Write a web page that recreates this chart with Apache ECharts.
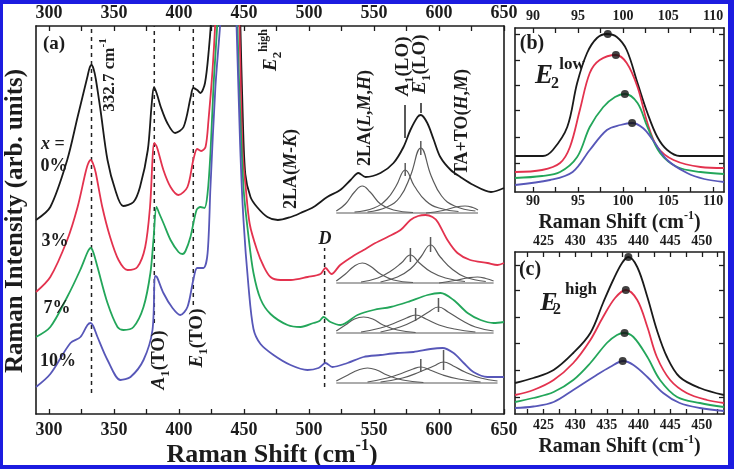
<!DOCTYPE html>
<html><head><meta charset="utf-8">
<script src="https://cdn.jsdelivr.net/npm/echarts@6/dist/echarts.min.js"></script>
<style>html,body{margin:0;padding:0;background:#fff}#c{width:734px;height:469px}</style>
</head><body><div id="c"></div>
<script>
// ---------------- DATA ----------------
// Panel (a): Raman spectra (x = Raman shift cm^-1, y = offset intensity, arb.)
const spec0 = [[290,194],[301,207],[314,254],[322,297],[329.5,337],[331.2,346],[332.7,349],[334.3,345],[336,335],[339.6,304],[345,254],[351,224],[357,208],[365,212],[370,227],[376,264],[379,310],[380.8,327],[383,320],[386,307],[391,291],[397,281],[403.5,287],[409,317],[411,326],[414,324],[416.5,321],[420,331],[423,365],[425,400],[428,480],[432,600],[436,690],[439,700],[442,640],[445,520],[447,400],[449,300],[451,240],[455,217],[460,207],[468,197],[476,194],[486,197],[493.5,201],[503.5,207],[514,217],[524,224],[532,234],[538,241],[543.5,237],[555,241],[565,251],[572.7,267],[578,284],[583.5,297],[586,299],[591,291],[596,274],[601,257],[609,244],[616.5,237],[626.5,229],[640,222],[650,226]];
const spec3 = [[290,122],[301,137],[314,174],[322,207],[328,241],[330,250],[332,254],[334,250],[336,241],[341,207],[347,177],[353.5,154],[360.4,144],[368,147],[374,167],[377.7,207],[381,271],[383,267],[388,244],[393.5,227],[399.6,219],[406.5,227],[411,254],[414,265],[417,263],[420.4,267],[422.7,294],[425.8,344],[428,394],[432,520],[436,620],[439,640],[442,590],[445,470],[447,360],[449,261],[451.3,227],[454.4,190],[460,164],[465,148],[470.4,137],[478,134],[486,134],[499,137],[508.8,140],[512.7,146],[517.3,140],[524,149],[534,158],[542,164],[549.6,170],[560.4,177],[570.4,184],[578,194],[584,198],[589.6,199],[595,197],[599,192],[606.5,174],[614.2,161],[624,154],[637.3,151],[645,149],[650,151]];
const spec7 = [[290,77],[301,87],[314,117],[324,144],[329,160],[330.5,164],[332,166],[334,162],[337.3,147],[345,111],[352.7,87],[357.3,84],[365,87],[372.7,107],[378,141],[380.4,175],[382.7,207],[385,200],[388,191],[393.5,174],[399.6,162],[402.7,160],[405,163],[408.8,177],[413.5,204],[416.5,207],[419.6,206],[422,221],[424.2,261],[426.5,327],[429.6,394],[433,500],[437,580],[440,570],[443,480],[446,340],[449.6,227],[453.5,177],[457.3,141],[462.7,115],[470.4,100],[483.5,89],[493.5,87],[503.5,91],[508,93],[511.2,97],[516.5,92],[524.2,89],[537.3,99],[549.6,104],[562.7,107],[575.8,112],[591.2,119],[601.2,121],[611.2,114],[622,101],[632,94],[642,91],[650,92]];
const spec10 = [[290,27],[301,40],[316.5,71],[324.2,77],[329.6,89],[332,91],[334,88],[337.3,77],[345,54],[355,34],[362.7,37],[372.7,54],[379.6,84],[381.5,138],[383,137],[388,121],[395,106],[401,99],[406.5,107],[411,134],[414,146],[418.8,146],[422,161],[424.2,227],[428,327],[431.9,394],[435,470],[438,520],[441,500],[444,400],[447,270],[449.6,194],[453.5,127],[457.3,85],[462.7,70],[472.7,59],[485.8,49],[498.8,44],[507.3,46],[512.7,51],[518,47],[529.6,51],[541.9,57],[555,59],[568,61],[580.4,62],[593.5,65],[602.7,66],[611.2,61],[619,51],[626.5,42],[637.3,37],[650,37]];

// fitted Lorentzian components (grey)
const fit0 = [
  [[521,201],[630,201]],
  [[521,203],[528,210],[535,222],[541,228],[547,222],[555,210],[565,204],[580,201.5]],
  [[535,202],[550,206],[560,215],[567,228],[574,244],[581,228],[590,213],[600,206],[615,202.5]],
  [[545,202],[560,207],[570,217],[578,238],[586,266],[594,238],[602,218],[612,208],[628,203]],
  [[590,201],[603,203.5],[613,207],[620,208],[626,206.5],[630,204]]
];
const fit3 = [
  [[521,131],[642,131]],
  [[521,133],[528,140],[535,148],[541,151],[547,148],[555,140],[565,134],[580,131.5]],
  [[540,132],[553,136],[563,143],[571,151],[578,159],[585,151],[594,142],[605,136],[620,132.5]],
  [[555,132],[568,137],[578,145],[586,157],[593.5,169],[601,157],[610,145],[620,137],[636,132.5]],
  [[600,131],[612,133.5],[622,136],[629.6,137],[636,135.5],[642,133]]
];
const fit7 = [
  [[521,81],[642,81]],
  [[521,83],[528,89],[535,95],[542,97],[549,95],[557,89],[568,84],[582,81.5]],
  [[540,82],[555,86],[566,91],[575,96],[582,99],[590,95],[600,89],[612,85],[628,82]],
  [[555,82],[570,87],[582,94],[592,102],[599.6,107],[607,102],[617,94],[628,87],[642,83]]
];
const fit10 = [
  [[521,31],[645,31]],
  [[521,33],[530,39],[538,44],[545,46],[552,44],[560,39],[572,34],[588,31.5]],
  [[545,32],[560,36],[572,41],[580,45],[586,47],[593,44],[603,39],[615,35],[632,32]],
  [[555,32],[572,36],[585,42],[596,48],[603.5,52],[611,48],[620,42],[632,36],[645,33]]
];
// peak-position tick marks on fitted components: [x, yLow, yHigh]
const fitTicks = [[574,238,251],[586,259,273],[578,152,166],[593.5,162,177],[582,93,106],[599.6,102,116],[586,42,55],[603.5,44,64]];
// dashed guide lines: [x, yLow, yHigh]
const guides = [[332.7,21,388],[381,91,388],[411,109,388],[512,27,166]];
// arrows for A1(LO), E1(LO): [x, yFrom, yTo]
const arrows = [[574,309,276],[586,311,301]];

// Panel (b): E2 low
const bSpec0 = [[88,36],[91.1,36],[92.2,42],[93.8,65],[94.9,109],[96,139],[97.1,154],[98.2,158],[99.3,155],[100.4,142],[101.6,109],[102.7,79],[103.8,55],[104.9,42],[106.3,36],[111.2,36]];
const bSpec3 = [[88,20],[91,22],[93,29],[94.1,45],[95.2,82],[96.3,119],[97.4,132],[99.2,137],[100.4,129],[101.6,105],[102.7,69],[103.8,45],[105.6,32],[108.6,25],[111.2,24]];
const bSpec7 = [[88,14],[91,16],[93,20],[94.9,35],[96.3,65],[97.8,85],[99.1,95],[100.2,98],[101.6,89],[102.7,65],[104.1,39],[106,25],[108.6,20],[111.2,18]];
const bSpec10 = [[88,7],[91.9,12],[94.4,20],[96.3,42],[98.2,62],[99.7,67],[101,69],[102.2,64],[103.3,52],[104.9,32],[107.1,19],[109,13],[111.2,10]];
const bPeaks = [[98.3,158],[99.2,137],[100.2,98],[101,69]];

// Panel (c): E2 high
const cSpec0 = [[420.5,31],[423.4,36],[426.6,44],[429.7,61],[432.4,81],[434.4,111],[436,134],[437.4,151],[438.4,157],[439.8,147],[441.4,117],[442.9,84],[444.5,57],[446.5,37],[449.7,26],[453.5,19]];
const cSpec3 = [[420.5,19],[423.4,24],[426.6,34],[429.7,51],[432.4,74],[434.4,97],[436.3,116],[438,124],[439.8,114],[441.4,87],[442.9,57],[445,34],[447.6,21],[450.8,14],[453.5,11]];
const cSpec7 = [[420.5,12],[423.4,16],[426.6,22],[429.7,34],[432.4,51],[435,71],[436.6,79],[437.7,81],[439.2,77],[441.4,57],[443.4,34],[446.1,17],[449.7,11],[453.5,7]];
const cSpec10 = [[420.5,6],[423.4,7.5],[426.6,12],[429.7,24],[432.9,37],[435.5,47],[437.6,53],[439.2,49],[441.4,37],[443.9,21],[446.5,11],[449.7,6],[453.5,3]];
const cPeaks = [[438.4,157],[438,124],[437.8,81],[437.5,53]];

// tick values / labels
const aTicks = [300,325,350,375,400,425,450,475,500,525,550,575,600,625,650];
const aLabels = [300,350,400,450,500,550,600,650];
const bTicks = [90,92.5,95,97.5,100,102.5,105,107.5,110];
const bLabels = [90,95,100,105,110];
const cTicks = [422.5,425,427.5,430,432.5,435,437.5,440,442.5,445,447.5,450,452.5];
const cLabels = [425,430,435,440,445,450];
const bYTicks = [29,55,82,107,132,158];
const cYTicks = [17,44,71,97,124,149];

// ---------------- CHART ----------------
const FONT = "'Liberation Serif','Times New Roman',serif";
const INK = '#1c1c1c';
const COLORS = ['#1a1a1a','#e3324e','#23a65a','#5757b8'];
const GREY = '#5a5a5a';

function xAx(grid, pos, min, max, ticks, labels, fs, margin, name, gap, nfs) {
  return {
    type:'value', gridIndex:grid, position:pos, min:min, max:max,
    axisLine:{show:true, onZero:false, lineStyle:{color:INK, width:1.6}},
    axisTick:{show:true, inside:true, length:5, customValues:ticks, lineStyle:{color:INK, width:1.3}},
    axisLabel:{show:true, customValues:labels, margin:margin, color:INK, fontFamily:FONT, fontWeight:'bold', fontSize:fs},
    splitLine:{show:false},
    name: name || '', nameLocation:'middle', nameGap: gap || 0,
    nameTextStyle:{color:INK, fontFamily:FONT, fontWeight:'bold', fontSize:nfs || 12, lineHeight: (nfs||12)+6,
      rich:{sp:{fontFamily:FONT, fontWeight:'bold', fontSize: Math.round((nfs||12)*0.58), verticalAlign:'top', lineHeight: Math.round((nfs||12)*0.6)}}}
  };
}
function yAx(grid, pos, max, ticks) {
  return {
    type:'value', gridIndex:grid, position:pos, min:0, max:max,
    axisLine:{show:true, onZero:false, lineStyle:{color:INK, width:1.6}},
    axisTick:{show: !!ticks, inside:true, length:5, customValues:ticks || undefined, lineStyle:{color:INK, width:1.3}},
    axisLabel:{show:false}, splitLine:{show:false}
  };
}

const series = [];
function addLine(data, color, width, xi, yi, smooth, z, dash) {
  series.push({type:'line', data:data, xAxisIndex:xi, yAxisIndex:yi, symbol:'none', smooth:smooth,
    clip:true, silent:true, z:z, lineStyle:{color:color, width:width, type: dash || 'solid'}});
}
[fit0, fit3, fit7, fit10].forEach(function(set){ set.forEach(function(c){ addLine(c, GREY, 1.2, 0, 0, 0.45, 2); }); });
fitTicks.forEach(function(t){ addLine([[t[0],t[1]],[t[0],t[2]]], GREY, 1.5, 0, 0, false, 3); });
guides.forEach(function(g){ addLine([[g[0],g[1]],[g[0],g[2]]], '#222', 1.5, 0, 0, false, 2, [4,4]); });
[spec0, spec3, spec7, spec10].forEach(function(s, i){ addLine(s, COLORS[i], 1.8, 0, 0, 0.3, 5); });
series.push({type:'line', xAxisIndex:0, yAxisIndex:0, data:[], symbol:'none', silent:true,
  markLine:{silent:true, symbol:['none','arrow'], symbolSize:[0,8], label:{show:false},
    lineStyle:{color:'#222', width:1.5, type:'solid'},
    data: arrows.map(function(a){ return [{coord:[a[0],a[1]]},{coord:[a[0],a[2]]}]; })}});
[bSpec0, bSpec3, bSpec7, bSpec10].forEach(function(s, i){ addLine(s, COLORS[i], 1.8, 2, 2, 0.35, 5); });
[cSpec0, cSpec3, cSpec7, cSpec10].forEach(function(s, i){ addLine(s, COLORS[i], 1.8, 4, 4, 0.35, 5); });
series.push({type:'scatter', xAxisIndex:2, yAxisIndex:2, data:bPeaks, symbolSize:8, itemStyle:{color:'#111'}, z:6, silent:true});
series.push({type:'scatter', xAxisIndex:4, yAxisIndex:4, data:cPeaks, symbolSize:8, itemStyle:{color:'#111'}, z:6, silent:true});

// text annotations
function T(x, y, text, rot, size) {
  const fs = size || 19;
  return {type:'text', x:x, y:y, rotation: rot ? Math.PI/2 : 0, z:50, silent:true,
    style:{text:text, fill:INK, align:'center', verticalAlign:'middle', textAlign:'center', textVerticalAlign:'middle',
      fontFamily:FONT, fontWeight:'bold', fontSize:fs,
      rich:{
        n:{fontFamily:FONT, fontWeight:'bold', fontSize:fs, lineHeight:fs+8, verticalAlign:'middle', fill:INK},
        i:{fontFamily:FONT, fontWeight:'bold', fontStyle:'italic', fontSize:fs, lineHeight:fs+8, verticalAlign:'middle', fill:INK},
        sb:{fontFamily:FONT, fontWeight:'bold', fontSize:Math.round(fs*0.68), lineHeight:Math.round(fs*0.7), verticalAlign:'bottom', fill:INK},
        sp:{fontFamily:FONT, fontWeight:'bold', fontSize:Math.round(fs*0.62), lineHeight:Math.round(fs*0.62), verticalAlign:'top', fill:INK}
      }}};
}
const graphics = [
  {type:'rect', shape:{x:0,y:0,width:734,height:4}, style:{fill:'#1c1ce0'}, z:100, silent:true},
  {type:'rect', shape:{x:0,y:465,width:734,height:4}, style:{fill:'#1c1ce0'}, z:100, silent:true},
  {type:'rect', shape:{x:0,y:0,width:3,height:469}, style:{fill:'#1c1ce0'}, z:100, silent:true},
  {type:'rect', shape:{x:728,y:0,width:6,height:469}, style:{fill:'#1c1ce0'}, z:100, silent:true},
  T(16,221,'{n|Raman Intensity (arb. units)}',true,25),
  T(272,455,'{n|Raman Shift (cm}{sp|-1}{n|)}',false,26),
  T(54,44,'{n|(a)}',false,19),
  T(53,144,'{i|x}{n| =}',false,18),
  T(54,166,'{n|0%}',false,18),
  T(55,241,'{n|3%}',false,18),
  T(57,308,'{n|7%}',false,18),
  T(58,361,'{n|10%}',false,18),
  T(110,75,'{n|332.7 cm}{sp|-1}',true,17),
  T(159,360,'{i|A}{sb|1}{n|(TO)}',true,19),
  T(197,338,'{i|E}{sb|1}{n|(TO)}',true,19),
  T(271,50,'{i|E}{sb|2}{sp|high}',true,19),
  T(291,169,'{n|2LA(}{i|M}{n|-}{i|K}{n|)}',true,18),
  T(365,118,'{n|2LA(}{i|L}{n|,}{i|M}{n|,}{i|H}{n|)}',true,18),
  T(403,66,'{i|A}{sb|1}{n|(LO)}',true,19),
  T(420,64,'{i|E}{sb|1}{n|(LO)}',true,19),
  T(462,122,'{n|TA+TO(}{i|H}{n|,}{i|M}{n|)}',true,18),
  T(325,239,'{i|D}',false,18),
  T(532,44,'{n|(b)}',false,20),
  T(544,76,'{i|E}',false,27),
  T(555,84,'{n|2}',false,16),
  T(572,65,'{n|low}',false,17),
  T(530,270,'{n|(c)}',false,20),
  T(549,303,'{i|E}',false,26),
  T(557,310,'{n|2}',false,16),
  T(581,290,'{n|high}',false,17)
];

const option = {
  animation:false,
  backgroundColor:'#ffffff',
  grid:[
    {left:36, top:26, width:468, height:388, containLabel:false},
    {left:515, top:28, width:209, height:164, containLabel:false},
    {left:515, top:252, width:209, height:162, containLabel:false}
  ],
  xAxis:[
    xAx(0,'bottom',290,650,aTicks,aLabels,18,7),
    xAx(0,'top',290,650,aTicks,aLabels,18,4),
    xAx(1,'bottom',88,111.2,bTicks,bLabels,14,2,'Raman Shift (cm{sp|-1})',18,20),
    xAx(1,'top',88,111.2,bTicks,bLabels,14,5),
    xAx(2,'bottom',420.5,453.5,cTicks,cLabels,14,4,'Raman Shift (cm{sp|-1})',20,20),
    xAx(2,'top',420.5,453.5,cTicks,cLabels,14,4)
  ],
  yAxis:[
    yAx(0,'left',388,null),
    yAx(0,'right',388,null),
    yAx(1,'left',164,bYTicks),
    yAx(1,'right',164,bYTicks),
    yAx(2,'left',162,cYTicks),
    yAx(2,'right',162,cYTicks)
  ],
  series: series,
  graphic: graphics
};
const chart = echarts.init(document.getElementById('c'), null, {renderer:'canvas'});
chart.setOption(option);
</script></body></html>
